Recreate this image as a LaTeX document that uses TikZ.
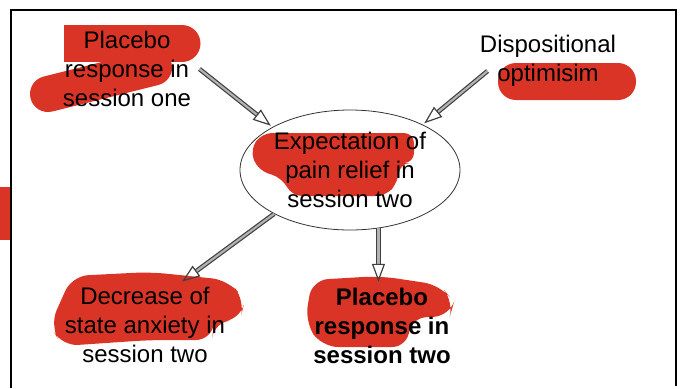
\documentclass[tikz,border=0pt]{standalone}
\usepackage{fontspec}
\setmainfont{Liberation Sans}
\usepackage{tikz}
\usetikzlibrary{arrows.meta,shapes.geometric}
\definecolor{hlred}{RGB}{218,52,38}

\begin{document}
\begin{tikzpicture}[x=0.5pt,y=-0.5pt,>={Triangle[open,length=9pt,width=6.5pt,line width=0.6pt]},
  shorten >=1pt,thin,
  text node/.style={align=center,inner sep=2pt,font=\fontsize{12}{14.5}\selectfont},
  bold node/.style={text node,font=\fontsize{12}{14.5}\selectfont\bfseries},
  mid node/.style={ellipse,draw=black!80,text node,inner xsep=-6pt,inner ysep=0pt,
    minimum width=110pt,minimum height=60pt},
  flow/.style={draw=black!75,double=black!30,double distance=1.1pt,line width=0.6pt,->}]
  \useasboundingbox (0,0) rectangle (682,388);
  % marker strokes
  \fill[hlred] (0,187) rectangle (12,240);
  \fill[hlred] (64,25) rectangle (182,62);
  \fill[hlred] (182,43.5) circle[radius=18.5];
  \draw[hlred,line width=18pt,line cap=round] (48,94) -- (156,67);
  \fill[hlred,rounded corners=5pt] (262,133) -- (414,133) -- (414,163) -- (400,163)
    -- (398,182) -- (386,196) -- (292,196) -- (282,178) -- (258,170) -- (250,150) -- cycle;
  \fill[hlred,rounded corners=9pt] (498,63) rectangle (636,100);
  \fill[hlred,rounded corners=8pt] (72,276) -- (150,272) -- (228,280) -- (245,300)
    -- (240,320) -- (214,322) -- (212,340) -- (150,340) -- (62,346) -- (50,325) -- cycle;
  \fill[hlred,rounded corners=8pt] (312,280) -- (380,276) -- (440,285) -- (454,302)
    -- (450,316) -- (410,318) -- (408,347) -- (322,347) -- (305,322) -- cycle;
  % frame
  \draw[line width=1pt] (11,388) -- (11,10) -- (676,10) -- (676,388);

  \node[text node] (1) at (127,69) {Placebo\\response in\\session one};
  \node[text node] (2) at (548,61) {Dispositional\\optimisim};
  \node[mid node] (3) at (350,170) {Expectation of\\pain relief in\\session two};
  \node[text node] (4) at (145,325) {Decrease of\\state anxiety in\\session two};
  \node[bold node] (5) at (382,326) {Placebo\\response in\\session two};

  \path[every edge/.style={flow}]
    ([xshift=2pt]1.east) edge (3.151)
    ([shift={(6pt,-5pt)}]2.west) edge (3.32)
    (3.210) edge (4.50)
    (3.296) edge (3.296 |- 5.north);
\end{tikzpicture}
\end{document}
